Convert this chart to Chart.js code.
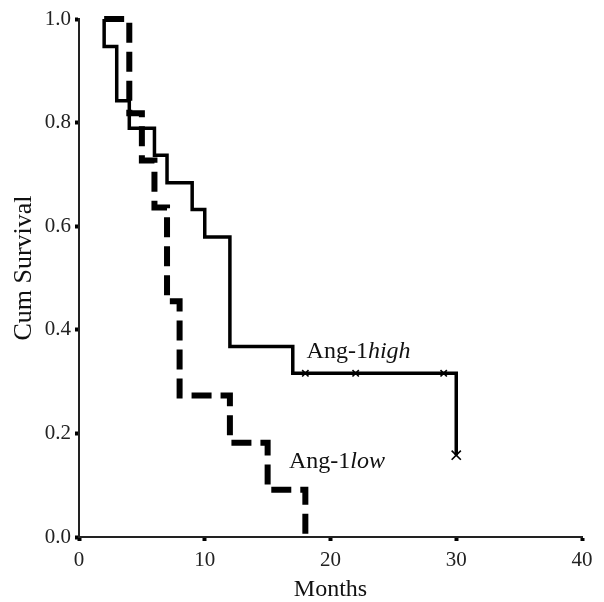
<!DOCTYPE html>
<html>
<head>
<meta charset="utf-8">
<script src="https://cdn.jsdelivr.net/npm/chart.js@4.4.1/dist/chart.umd.min.js"></script>
<style>
  html, body { margin: 0; padding: 0; background: #fff; }
  #wrap { width: 604px; height: 602px; }
</style>
</head>
<body>
<div id="wrap"><canvas id="km" width="604" height="602"></canvas></div>
<script>
'use strict';

// Kaplan-Meier steps
const highTimes = [2, 2, 3, 4, 6, 7, 9, 10, 12, 17, 30];
const highSurvival = [1.0, 0.947, 0.842, 0.789, 0.737, 0.684, 0.632, 0.579, 0.368, 0.316, 0.158];

const lowTimes = [2, 4, 5, 6, 7, 8, 12, 15, 18];
const lowSurvival = [1.0, 0.818, 0.727, 0.636, 0.455, 0.273, 0.182, 0.091, 0.0];

// censored cases (Ang-1 high)
const censorTimes = [18, 22, 29, 30];
const censorSurvival = [0.316, 0.316, 0.316, 0.158];

const xTicks = [0, 10, 20, 30, 40];
const yTicks = [0.0, 0.2, 0.4, 0.6, 0.8, 1.0];

const FONT = "'Liberation Serif', 'Times New Roman', serif";

const toPoints = (xs, ys) => xs.map((x, i) => ({ x: x, y: ys[i] }));

// curve labels, placed in data units
const curveLabels = [
    { x: 18.1, y: 0.345, plain: 'Ang-1', italic: 'high' },
    { x: 16.7, y: 0.133, plain: 'Ang-1', italic: 'low' }
];

const curveLabelPlugin = {
    id: 'curve_labels',
    afterDatasetsDraw: (chart) => {
        const ctx = chart.ctx;
        const xs = chart.scales.x;
        const ys = chart.scales.y;
        ctx.save();
        ctx.fillStyle = '#111';
        ctx.textBaseline = 'alphabetic';
        ctx.textAlign = 'left';
        curveLabels.forEach(l => {
            const px = xs.getPixelForValue(l.x);
            const py = ys.getPixelForValue(l.y);
            ctx.font = `24px ${FONT}`;
            ctx.fillText(l.plain, px, py);
            const w = ctx.measureText(l.plain).width;
            ctx.font = `italic 24px ${FONT}`;
            ctx.fillText(l.italic, px + w, py);
        });
        ctx.restore();
    }
};

// y title sits a little above the middle of the axis in the original
const yTitlePlugin = {
    id: 'y_title',
    afterDraw: (chart) => {
        const ctx = chart.ctx;
        const area = chart.chartArea;
        ctx.save();
        ctx.translate(24, (area.top + area.bottom) / 2 - 10);
        ctx.rotate(-Math.PI / 2);
        ctx.fillStyle = '#111';
        ctx.font = `26px ${FONT}`;
        ctx.textAlign = 'center';
        ctx.textBaseline = 'middle';
        ctx.fillText('Cum Survival', 0, 0);
        ctx.restore();
    }
};

const data = {
    datasets: [{
        label: 'Ang-1high',
        data: toPoints(highTimes, highSurvival),
        stepped: 'before',
        borderColor: '#000',
        borderWidth: 3.5,
        pointRadius: 0,
        fill: false,
        clip: false
    }, {
        label: 'Ang-1low',
        data: toPoints(lowTimes, lowSurvival),
        stepped: 'before',
        borderColor: '#000',
        borderWidth: 6,
        borderDash: [20, 9],
        borderCapStyle: 'butt',
        pointRadius: 0,
        fill: false,
        clip: false
    }, {
        label: 'Censored',
        type: 'scatter',
        data: toPoints(censorTimes, censorSurvival),
        pointStyle: 'crossRot',
        pointRadius: [4.5, 4.5, 4.5, 6.5],
        pointBorderWidth: 1.6,
        pointBorderColor: '#000',
        showLine: false,
        clip: false
    }]
};

const options = {
    responsive: false,
    animation: false,
    events: [],
    layout: {
        padding: { top: 19, right: 22, left: 0, bottom: 0 }
    },
    scales: {
        x: {
            type: 'linear',
            min: 0,
            max: 40,
            afterFit: (scale) => { scale.height = 65; },
            afterBuildTicks: (scale) => { scale.ticks = xTicks.map(v => ({ value: v })); },
            grid: {
                drawOnChartArea: false,
                drawTicks: true,
                tickLength: 4,
                tickWidth: 4,
                tickColor: '#000'
            },
            border: { color: '#222', width: 2 },
            ticks: {
                color: '#222',
                padding: 7,
                maxRotation: 0,
                font: { family: FONT, size: 21 }
            },
            title: {
                display: true,
                text: 'Months',
                color: '#111',
                padding: { top: 0, bottom: 0 },
                font: { family: FONT, size: 24, lineHeight: 1 }
            }
        },
        y: {
            type: 'linear',
            min: 0,
            max: 1,
            afterFit: (scale) => { scale.width = 79; },
            afterBuildTicks: (scale) => { scale.ticks = yTicks.map(v => ({ value: v })); },
            grid: {
                drawOnChartArea: false,
                drawTicks: true,
                tickLength: 4,
                tickWidth: 4,
                tickColor: '#000'
            },
            border: { color: '#222', width: 2 },
            ticks: {
                color: '#222',
                padding: 4,
                font: { family: FONT, size: 21 },
                callback: (v) => Number(v).toFixed(1)
            },
            title: { display: false }
        }
    },
    plugins: {
        legend: { display: false },
        tooltip: { enabled: false }
    }
};

const config = {
    type: 'line',
    data: data,
    options: options,
    plugins: [curveLabelPlugin, yTitlePlugin]
};

new Chart(document.getElementById('km'), config);
</script>
</body>
</html>
